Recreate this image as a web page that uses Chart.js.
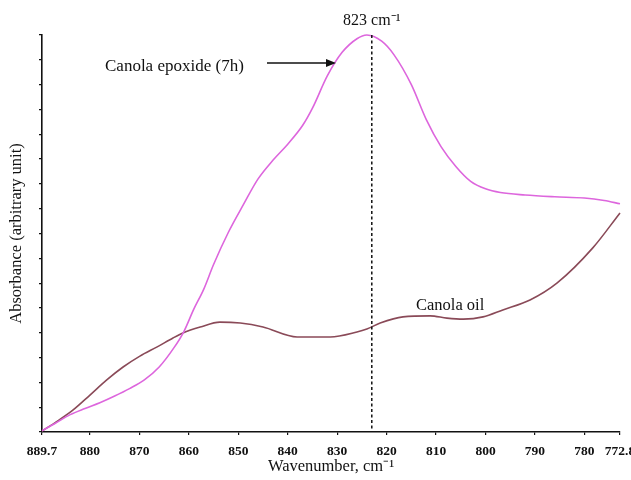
<!DOCTYPE html>
<html>
<head>
<meta charset="utf-8">
<title>FTIR epoxide band</title>
<script src="https://cdn.jsdelivr.net/npm/chart.js@4.4.1/dist/chart.umd.min.js"></script>
<style>
  html, body { margin: 0; padding: 0; background: #fff; }
  #wrap { width: 631px; height: 480px; }
</style>
</head>
<body>
<div id="wrap"><canvas id="spectrum"></canvas></div>
<script>
// wavenumbers (cm-1) and absorbance, arbitrary units
const epoxideWavenumbers = [889.7, 887, 884, 881, 878, 875, 872, 869, 866, 863, 861, 859, 857, 855, 852, 849, 846, 843, 840, 837, 835, 832, 829, 826, 824, 821, 818.5, 815, 812, 809, 806, 803, 800, 797, 792, 786, 780, 776, 772.8];
const epoxideAbsorbance = [0.05, 0.35, 0.7, 0.95, 1.18, 1.45, 1.75, 2.1, 2.62, 3.4, 4.05, 4.95, 5.75, 6.75, 8.05, 9.15, 10.2, 10.95, 11.6, 12.35, 13.05, 14.35, 15.3, 15.85, 16.0, 15.75, 15.2, 14.0, 12.6, 11.5, 10.7, 10.1, 9.8, 9.65, 9.55, 9.48, 9.43, 9.33, 9.2];

const oilWavenumbers = [889.7, 886.5, 883.4, 880, 876.6, 873.3, 869.9, 866.4, 863.2, 861.2, 857.7, 853.7, 849.6, 845, 838.1, 831.4, 826, 824, 821.3, 816.7, 811.2, 807.8, 804.5, 800.5, 796.5, 791, 785.5, 778.3, 772.8];
const oilAbsorbance = [0.04, 0.45, 0.89, 1.49, 2.1, 2.62, 3.06, 3.43, 3.79, 3.99, 4.23, 4.43, 4.39, 4.23, 3.83, 3.83, 4.03, 4.15, 4.39, 4.64, 4.68, 4.59, 4.55, 4.64, 4.92, 5.32, 6.01, 7.42, 8.83];

const xTickValues = [889.7, 880, 870, 860, 850, 840, 830, 820, 810, 800, 790, 780, 772.8];
const peakWavenumber = 823;

const serif = "'Liberation Serif', 'Times New Roman', serif";

const toPoints = (xs, ys) => xs.map((x, i) => ({ x, y: ys[i] }));

const annotations = {
  id: 'annotations',
  afterDatasetsDraw(chart) {
    const { ctx, chartArea, scales: { x } } = chart;
    const px = x.getPixelForValue(peakWavenumber);

    ctx.save();
    // dotted marker through the band maximum
    ctx.strokeStyle = '#111';
    ctx.lineWidth = 1.5;
    ctx.setLineDash([3, 2.5]);
    ctx.beginPath();
    ctx.moveTo(px, chartArea.top);
    ctx.lineTo(px, chartArea.bottom);
    ctx.stroke();
    ctx.setLineDash([]);

    ctx.fillStyle = '#111';
    ctx.textBaseline = 'middle';
    ctx.font = `16px ${serif}`;
    ctx.textAlign = 'center';
    ctx.fillText(`${peakWavenumber} cm⁻¹`, px, 21);

    ctx.textAlign = 'left';
    ctx.font = `17px ${serif}`;
    ctx.fillText('Canola epoxide (7h)', 105, 67);
    ctx.font = `16.5px ${serif}`;
    ctx.fillText('Canola oil', 416, 306);

    // arrow pointing at the epoxide curve
    ctx.lineWidth = 1.5;
    ctx.beginPath();
    ctx.moveTo(267, 63);
    ctx.lineTo(328, 63);
    ctx.stroke();
    ctx.beginPath();
    ctx.moveTo(336, 63);
    ctx.lineTo(326, 59);
    ctx.lineTo(326, 67);
    ctx.closePath();
    ctx.fill();
    ctx.restore();
  },
};

new Chart(document.getElementById('spectrum'), {
  type: 'line',
  data: {
    datasets: [
      {
        label: 'Canola epoxide (7h)',
        data: toPoints(epoxideWavenumbers, epoxideAbsorbance),
        borderColor: '#dd66dd',
        borderWidth: 1.6,
        pointRadius: 0,
        cubicInterpolationMode: 'monotone',
        clip: false,
      },
      {
        label: 'Canola oil',
        data: toPoints(oilWavenumbers, oilAbsorbance),
        borderColor: '#8a4a58',
        borderWidth: 1.6,
        pointRadius: 0,
        cubicInterpolationMode: 'monotone',
        clip: false,
      },
    ],
  },
  options: {
    responsive: true,
    maintainAspectRatio: false,
    animation: false,
    layout: { padding: { top: 35, right: 11, left: 0, bottom: 0 } },
    plugins: {
      legend: { display: false },
      tooltip: { enabled: false },
    },
    scales: {
      x: {
        type: 'linear',
        reverse: true,
        min: 772.8,
        max: 889.7,
        afterBuildTicks: scale => {
          scale.ticks = xTickValues.map(value => ({ value }));
        },
        afterFit: scale => {
          scale.height = 48;
          scale.paddingLeft = 0;
          scale.paddingRight = 0;
        },
        grid: { drawOnChartArea: false, tickLength: 3, color: '#111', lineWidth: 1.2 },
        border: { color: '#111', width: 1.6 },
        ticks: {
          autoSkip: false,
          maxRotation: 0,
          padding: 8,
          color: '#111',
          font: { family: serif, size: 13.5, weight: 'bold' },
          callback: value => String(value),
        },
        title: {
          display: true,
          text: 'Wavenumber, cm⁻¹',
          color: '#111',
          font: { family: serif, size: 16.5 },
          padding: { top: 0, bottom: 3 },
        },
      },
      y: {
        min: 0,
        max: 16,
        afterFit: scale => {
          scale.width = 42;
          scale.paddingTop = 0;
          scale.paddingBottom = 0;
        },
        grid: { drawOnChartArea: false, tickLength: 3, color: '#111', lineWidth: 1.2 },
        border: { color: '#111', width: 1.6 },
        ticks: {
          stepSize: 1,
          callback: () => '',
        },
        title: {
          display: true,
          text: 'Absorbance (arbitrary unit)',
          color: '#111',
          font: { family: serif, size: 16.5 },
          padding: { top: 7, bottom: 0 },
        },
      },
    },
  },
  plugins: [annotations],
});
</script>
</body>
</html>
